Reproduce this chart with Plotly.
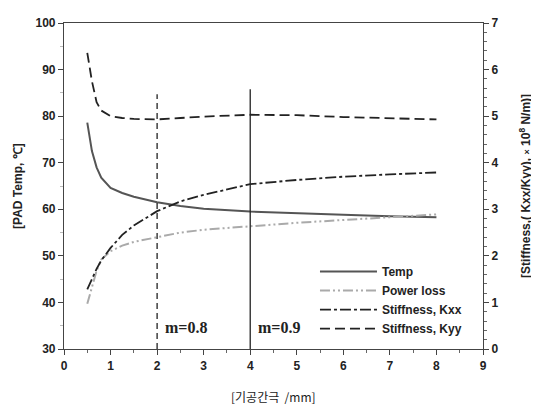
import plotly.graph_objects as go

# Data
gap = [0.5, 0.6, 0.7, 0.8, 1, 1.25, 1.5, 2, 2.5, 3, 4, 5, 6, 7, 8]
temp = [78.6, 72.5, 69.0, 66.8, 64.6, 63.5, 62.7, 61.5, 60.7, 60.1, 59.5, 59.1, 58.8, 58.5, 58.3]
power_loss = [39.7, 43.5, 46.8, 49.2, 51.0, 52.2, 53.0, 54.0, 55.0, 55.6, 56.4, 57.1, 57.7, 58.3, 58.9]
kxx = [1.28, 1.5, 1.72, 1.9, 2.17, 2.45, 2.65, 2.96, 3.17, 3.31, 3.54, 3.63, 3.70, 3.75, 3.79]
kyy = [6.36, 5.75, 5.3, 5.12, 5.0, 4.96, 4.94, 4.93, 4.96, 4.99, 5.03, 5.02, 4.98, 4.95, 4.93]

mark_x = [2, 4]
mark_top = [84.7, 85.8]
mark_labels = ["m=0.8", "m=0.9"]

font_b = dict(family="Liberation Sans, Arial", size=12, color="#222", weight="bold")

fig = go.Figure()
fig.add_trace(go.Scatter(x=gap, y=temp, name="Temp", mode="lines",
                         line=dict(color="#555555", width=2)))
fig.add_trace(go.Scatter(x=gap, y=power_loss, name="Power loss", mode="lines",
                         line=dict(color="#aaaaaa", width=2, dash="10px,3px,2px,3px,2px,3px")))
fig.add_trace(go.Scatter(x=gap, y=kxx, name="Stiffness, Kxx", mode="lines", yaxis="y2",
                         line=dict(color="#222222", width=1.8, dash="11px,3px,3px,3px")))
fig.add_trace(go.Scatter(x=gap, y=kyy, name="Stiffness, Kyy", mode="lines", yaxis="y2",
                         line=dict(color="#222222", width=1.8, dash="10px,5px")))

# vertical markers
fig.add_trace(go.Scatter(x=[mark_x[0], mark_x[0]], y=[30, mark_top[0]], mode="lines",
                         showlegend=False, line=dict(color="#222", width=1.3, dash="6px,4px")))
fig.add_trace(go.Scatter(x=[mark_x[1], mark_x[1]], y=[30, mark_top[1]], mode="lines",
                         showlegend=False, line=dict(color="#222", width=1.3)))

for xv, lab in zip(mark_x, mark_labels):
    fig.add_annotation(x=xv + 0.12, y=34.6, text=lab, showarrow=False, xanchor="left",
                       yanchor="middle",
                       font=dict(family="Liberation Serif, Times New Roman", size=16,
                                 color="#222", weight="bold"))

fig.add_annotation(xref="paper", yref="paper", x=-0.11, y=0.5, xanchor="center",
                   yanchor="middle", textangle=-90, showarrow=False,
                   text="[PAD Temp, ℃]", font=font_b)
fig.add_annotation(xref="paper", yref="paper", x=1.1, y=0.5, xanchor="center",
                   yanchor="middle", textangle=-90, showarrow=False,
                   text="[Stiffness,( Kxx/Kyy), <span style='font-size:9px'>×</span> 10<sup>8</sup> N/m)]",
                   font=font_b)
fig.add_annotation(xref="paper", yref="paper", x=0.5, y=-0.145, xanchor="center",
                   yanchor="middle", showarrow=False,
                   text="[기공간극  /mm]",
                   font=dict(family="Noto Sans CJK KR, Liberation Sans", size=12, color="#222"))

fig.update_layout(
    width=527, height=400,
    margin=dict(l=56, r=52, t=8, b=59),
    plot_bgcolor="white", paper_bgcolor="white",
    showlegend=True,
    legend=dict(x=0.599, y=0.282, xanchor="left", yanchor="top", itemwidth=57,
                bgcolor="rgba(0,0,0,0)", font=font_b, tracegroupgap=0),
    xaxis=dict(range=[0, 9], dtick=1, tick0=0, ticks="outside", ticklen=5,
               showline=True, linecolor="#444", linewidth=1.2, mirror=True,
               showgrid=False, zeroline=False, tickfont=font_b,
               minor=dict(dtick=0.5, ticks="outside", ticklen=3, tickcolor="#666")),
    yaxis=dict(range=[30, 100], dtick=10, ticks="outside", ticklen=5,
               showline=True, linecolor="#444", linewidth=1.2,
               showgrid=False, zeroline=False, tickfont=font_b,
               minor=dict(dtick=5, ticks="outside", ticklen=3, tickcolor="#bbb")),
    yaxis2=dict(range=[0, 7], dtick=1, ticks="outside", ticklen=5, overlaying="y",
                side="right", showline=True, linecolor="#444", linewidth=1.2,
                showgrid=False, zeroline=False, tickfont=font_b,
                minor=dict(dtick=0.2, ticks="outside", ticklen=3, tickcolor="#666")),
)

fig.write_html("out.html")
